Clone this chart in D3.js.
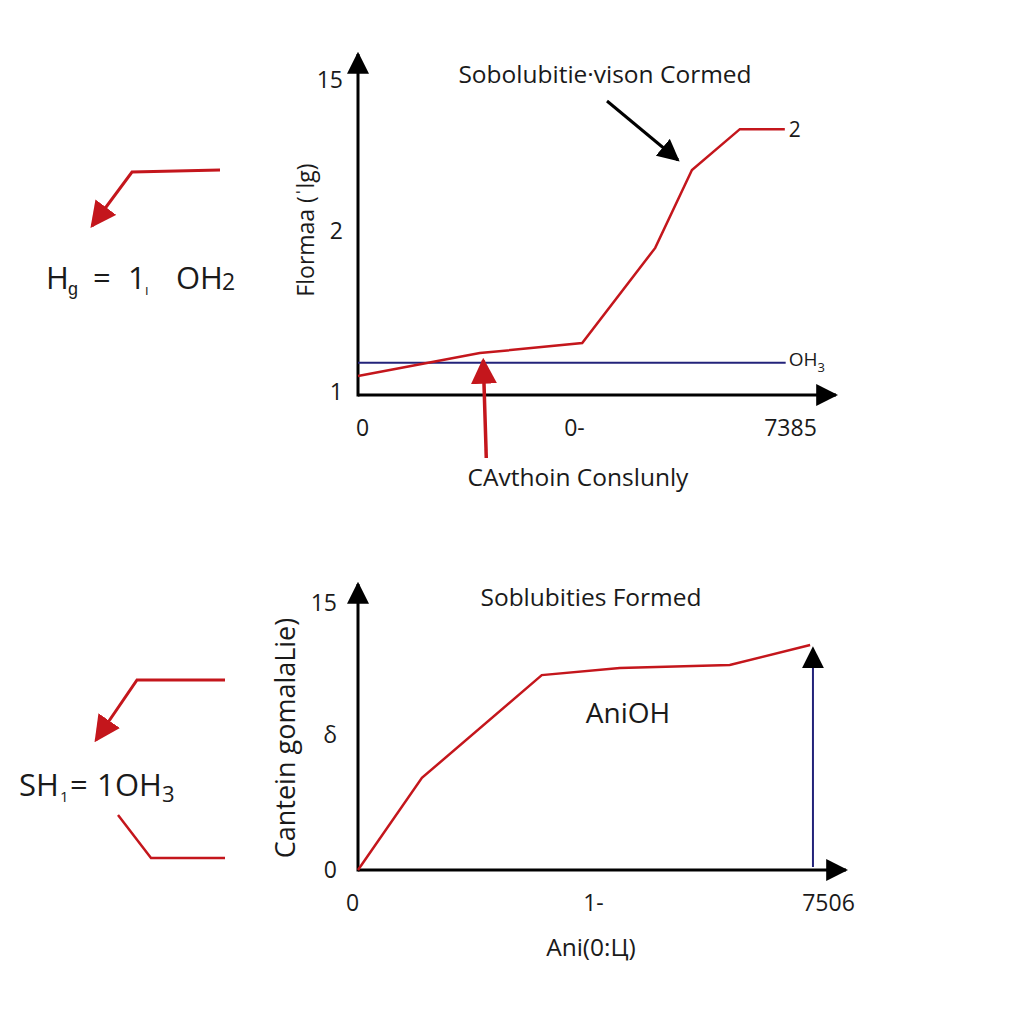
<!DOCTYPE html>
<html>
	<head>
		<meta charset="utf-8">
		<script src="https://cdnjs.cloudflare.com/ajax/libs/d3/7.8.5/d3.min.js" charset="utf-8"></script>
		<style>
			html, body { margin: 0; padding: 0; background: #ffffff; }
			text { font-family: 'Open Sans', sans-serif; fill: #1a1a1a; }
			.tick text { font-size: 23px; }
		</style>
	</head>
	<body>
		<div id="chart"></div>
		<script>

			///////////////////////////////////////////////////////////////////////////
			/////////////////////////////// Data //////////////////////////////////////
			///////////////////////////////////////////////////////////////////////////

			//Top panel
			var topXTicks = [0, 50, 100],
				topXLabels = ["0", "0-", "7385"],
				topYTicks = [1, 52, 100],
				topYLabels = ["1", "2", "15"];
			var topCurve = [
				{x: 0, y: 6},
				{x: 28.2, y: 13.3},
				{x: 51.9, y: 16.5},
				{x: 68.8, y: 46.7},
				{x: 77.3, y: 71.4},
				{x: 88.4, y: 84.4},
				{x: 98.8, y: 84.4}
			];
			var topBaseline = 10.2; //blue OH3 level
			var topPointer = {x: 29, yFrom: -20, yTo: 11}; //red arrow from below

			//Bottom panel
			var botXTicks = [0, 50, 100],
				botXLabels = ["0", "1-", "7506"],
				botYTicks = [0, 50.6, 100],
				botYLabels = ["0", "δ", "15"];
			var botCurve = [
				{x: 0, y: 0},
				{x: 13.6, y: 34.5},
				{x: 39.1, y: 73.0},
				{x: 55.7, y: 75.7},
				{x: 79.1, y: 76.8},
				{x: 96.2, y: 84.3}
			];
			var botMarker = {x: 96.8, y: 83}; //blue vertical arrow

			///////////////////////////////////////////////////////////////////////////
			/////////////////////////////// SVG ///////////////////////////////////////
			///////////////////////////////////////////////////////////////////////////

			var width = 1024, height = 1024;
			var red = "#c4161c", navy = "#23237a";

			var svg = d3.select("#chart").append("svg")
				.attr("width", width)
				.attr("height", height);

			var defs = svg.append("defs");
			function arrowMarker(id, color, size) {
				defs.append("marker")
					.attr("id", id)
					.attr("viewBox", "0 0 10 10")
					.attr("refX", 9).attr("refY", 5)
					.attr("markerUnits", "userSpaceOnUse")
					.attr("markerWidth", size).attr("markerHeight", size)
					.attr("orient", "auto")
					.append("path")
					.attr("d", "M0,0 L10,5 L0,10 Z")
					.style("fill", color);
			}
			arrowMarker("axisArrow", "#000", 22);
			arrowMarker("blackArrow", "#000", 22);
			arrowMarker("redArrow", red, 26);

			var line = d3.line().x(function(d) { return d.x; }).y(function(d) { return d.y; });

			///////////////////////////////////////////////////////////////////////////
			//////////////////////////// Top panel ////////////////////////////////////
			///////////////////////////////////////////////////////////////////////////

			var tx = d3.scaleLinear().domain([0, 100]).range([358, 790]);
			var ty = d3.scaleLinear().domain([0, 100]).range([395, 80]);
			var topG = svg.append("g");

			//Axes (labels only, lines drawn with arrowheads)
			topG.append("g")
				.attr("transform", "translate(0," + (ty(0) + 22) + ")")
				.call(d3.axisBottom(tx).tickValues(topXTicks).tickSize(0)
					.tickFormat(function(d, i) { return topXLabels[i]; }))
				.call(function(g) { g.select(".domain").remove(); })
				.selectAll("text").attr("dx", function(d, i) { return i === 0 ? 4 : 0; });

			topG.append("g")
				.attr("transform", "translate(" + (tx(0) - 12) + ",0)")
				.call(d3.axisLeft(ty).tickValues(topYTicks).tickSize(0)
					.tickFormat(function(d, i) { return topYLabels[i]; }))
				.call(function(g) { g.select(".domain").remove(); });

			topG.append("line")
				.attr("x1", tx(0)).attr("y1", ty(0))
				.attr("x2", 836).attr("y2", ty(0))
				.style("stroke", "#000").style("stroke-width", 3)
				.attr("marker-end", "url(#axisArrow)");
			topG.append("line")
				.attr("x1", tx(0)).attr("y1", ty(0) + 1.5)
				.attr("x2", tx(0)).attr("y2", 54)
				.style("stroke", "#000").style("stroke-width", 3)
				.attr("marker-end", "url(#axisArrow)");

			//Blue level
			topG.append("line")
				.attr("x1", tx(0)).attr("y1", ty(topBaseline))
				.attr("x2", tx(99)).attr("y2", ty(topBaseline))
				.style("stroke", navy).style("stroke-width", 2);
			var oh = topG.append("text")
				.attr("x", tx(99) + 3).attr("y", ty(topBaseline) + 3)
				.style("font-size", "19px");
			oh.append("tspan").text("OH");
			oh.append("tspan").attr("dy", 6).style("font-size", "13px").text("3");

			//Red curve
			topG.append("path")
				.datum(topCurve)
				.attr("d", d3.line().x(function(d) { return tx(d.x); }).y(function(d) { return ty(d.y); }))
				.style("fill", "none").style("stroke", red).style("stroke-width", 2.5);
			topG.append("text")
				.attr("x", tx(topCurve[topCurve.length - 1].x) + 4)
				.attr("y", ty(topCurve[topCurve.length - 1].y) + 8)
				.style("font-size", "21px").text("2");

			//Red pointer from below
			topG.append("line")
				.attr("x1", tx(topPointer.x) + 3).attr("y1", ty(topPointer.yFrom))
				.attr("x2", tx(topPointer.x)).attr("y2", ty(topPointer.yTo))
				.style("stroke", red).style("stroke-width", 3.5)
				.attr("marker-end", "url(#redArrow)");

			//Black pointer to curve
			topG.append("line")
				.attr("x1", 607).attr("y1", 101)
				.attr("x2", 678).attr("y2", 160)
				.style("stroke", "#000").style("stroke-width", 3)
				.attr("marker-end", "url(#blackArrow)");

			topG.append("text")
				.attr("x", 605).attr("y", 83)
				.style("text-anchor", "middle").style("font-size", "24.5px")
				.text("Sobolubitie·vison Cormed");
			topG.append("text")
				.attr("x", 578).attr("y", 486)
				.style("text-anchor", "middle").style("font-size", "24.5px")
				.text("CAvthoin Conslunly");
			topG.append("text")
				.attr("transform", "translate(314,230) rotate(-90)")
				.style("text-anchor", "middle").style("font-size", "23px")
				.text("Flormaa (ˈlg)");

			///////////////////////////////////////////////////////////////////////////
			/////////////////////////// Bottom panel //////////////////////////////////
			///////////////////////////////////////////////////////////////////////////

			var bx = d3.scaleLinear().domain([0, 100]).range([358, 828]);
			var by = d3.scaleLinear().domain([0, 100]).range([870, 603]);
			var botG = svg.append("g");

			botG.append("g")
				.attr("transform", "translate(0," + (by(0) + 22) + ")")
				.call(d3.axisBottom(bx).tickValues(botXTicks).tickSize(0)
					.tickFormat(function(d, i) { return botXLabels[i]; }))
				.call(function(g) { g.select(".domain").remove(); })
				.selectAll("text").attr("dx", function(d, i) { return i === 0 ? -6 : 0; });

			botG.append("g")
				.attr("transform", "translate(" + (bx(0) - 18) + ",0)")
				.call(d3.axisLeft(by).tickValues(botYTicks).tickSize(0)
					.tickFormat(function(d, i) { return botYLabels[i]; }))
				.call(function(g) { g.select(".domain").remove(); });

			botG.append("line")
				.attr("x1", bx(0)).attr("y1", by(0))
				.attr("x2", 846).attr("y2", by(0))
				.style("stroke", "#000").style("stroke-width", 3)
				.attr("marker-end", "url(#axisArrow)");
			botG.append("line")
				.attr("x1", bx(0)).attr("y1", by(0) + 1.5)
				.attr("x2", bx(0)).attr("y2", 584)
				.style("stroke", "#000").style("stroke-width", 3)
				.attr("marker-end", "url(#axisArrow)");

			//Red curve
			botG.append("path")
				.datum(botCurve)
				.attr("d", d3.line().x(function(d) { return bx(d.x); }).y(function(d) { return by(d.y); }))
				.style("fill", "none").style("stroke", red).style("stroke-width", 2.5);

			//Blue vertical arrow
			botG.append("line")
				.attr("x1", bx(botMarker.x)).attr("y1", by(0) - 3)
				.attr("x2", bx(botMarker.x)).attr("y2", by(botMarker.y))
				.style("stroke", navy).style("stroke-width", 2)
				.attr("marker-end", "url(#axisArrow)");

			botG.append("text")
				.attr("x", 628).attr("y", 723)
				.style("text-anchor", "middle").style("font-size", "28px")
				.text("AniOH");
			botG.append("text")
				.attr("x", 591).attr("y", 606)
				.style("text-anchor", "middle").style("font-size", "24.5px")
				.text("Soblubities Formed");
			botG.append("text")
				.attr("x", 591).attr("y", 956)
				.style("text-anchor", "middle").style("font-size", "24.5px")
				.text("Ani(0:Ц)");
			botG.append("text")
				.attr("transform", "translate(295,738) rotate(-90)")
				.style("text-anchor", "middle").style("font-size", "27px")
				.text("Cantein gomalaLie)");

			///////////////////////////////////////////////////////////////////////////
			/////////////////////// Left side annotations /////////////////////////////
			///////////////////////////////////////////////////////////////////////////

			var ann = svg.append("g");

			ann.append("path")
				.attr("d", line([{x: 220, y: 170}, {x: 132, y: 172}, {x: 92, y: 226}]))
				.style("fill", "none").style("stroke", red).style("stroke-width", 3)
				.attr("marker-end", "url(#redArrow)");

			var f1 = ann.append("text").attr("y", 289).style("font-size", "31px");
			f1.append("tspan").attr("x", 46).text("H");
			f1.append("tspan").attr("x", 68).attr("dy", 6).style("font-size", "18px").text("ɡ");
			f1.append("tspan").attr("x", 93).attr("dy", -6).text("=");
			f1.append("tspan").attr("x", 128).text("1");
			f1.append("tspan").attr("x", 145).attr("dy", 6).style("font-size", "14px").text("ı");
			f1.append("tspan").attr("x", 176).attr("dy", -6).text("OH");
			f1.append("tspan").attr("x", 222).attr("dy", 1).style("font-size", "23px").text("2");

			ann.append("path")
				.attr("d", line([{x: 225, y: 680}, {x: 137, y: 680}, {x: 96, y: 740}]))
				.style("fill", "none").style("stroke", red).style("stroke-width", 3)
				.attr("marker-end", "url(#redArrow)");
			ann.append("path")
				.attr("d", line([{x: 118, y: 815}, {x: 151, y: 858}, {x: 225, y: 858}]))
				.style("fill", "none").style("stroke", red).style("stroke-width", 2.5);

			var f2 = ann.append("text").attr("y", 796).style("font-size", "31px");
			f2.append("tspan").attr("x", 19).text("SH");
			f2.append("tspan").attr("x", 60).attr("dy", 6).style("font-size", "15px").text("1");
			f2.append("tspan").attr("x", 70).attr("dy", -6).text("=");
			f2.append("tspan").attr("x", 97).text("1");
			f2.append("tspan").attr("x", 115).text("OH");
			f2.append("tspan").attr("x", 162).attr("dy", 6).style("font-size", "22px").text("3");

		</script>
	</body>
</html>
